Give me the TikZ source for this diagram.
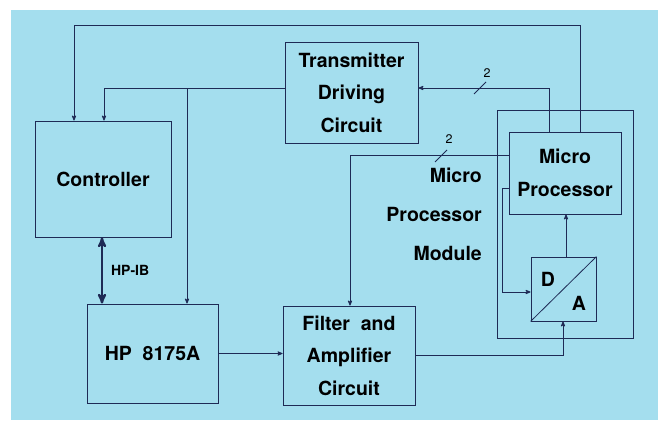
\documentclass[tikz,border=0pt]{standalone}
\usepackage{fontspec}
\setmainfont{TeX Gyre Heros}
\usetikzlibrary{arrows}
\definecolor{bgblue}{RGB}{164,222,238}
\definecolor{ink}{RGB}{30,42,85}

\begin{document}
\begin{tikzpicture}[x=1pt,y=-1pt,>=stealth',
  block/.style={draw=ink,line width=0.9pt,inner sep=0pt,align=center,
    font=\bfseries\fontsize{19.5}{32.5}\selectfont},
  wire/.style={draw=ink,line width=0.8pt,->},
  bigfont/.style={font=\bfseries\fontsize{19.5}{19.5}\selectfont,inner sep=0pt},
  busnum/.style={font=\fontsize{12.5}{12.5}\selectfont,inner sep=0pt}]
  \useasboundingbox (0,0) rectangle (658,420);
  \fill[white] (0,0) rectangle (658,420);
  \fill[bgblue] (11,10) rectangle (658,420);
  \node[block,minimum width=136pt,minimum height=116pt] (ctrl) at (103,179) {Controller};
  \node[block,minimum width=133pt,minimum height=101pt] (tdc) at (351.5,92.5) {Transmitter\\Driving\\Circuit};
  \node[block,minimum width=136pt,minimum height=228pt] (mpm) at (565,224) {};
  \node[block,minimum width=112pt,minimum height=82pt,
    font=\bfseries\fontsize{19.5}{33}\selectfont] (mp) at (565,173) {Micro\\Processor};
  \node[block,minimum width=65pt,minimum height=64pt] (da) at (563.5,289) {};
  \node[block,minimum width=131pt,minimum height=99pt] (hp) at (152.5,353.5) {HP\ \ 8175A};
  \node[block,minimum width=132pt,minimum height=99pt] (fac) at (349,355.5) {Filter\ \ and\\Amplifier\\Circuit};
  \node[font=\bfseries\fontsize{19.5}{39}\selectfont,align=right,inner sep=0pt,anchor=east]
    (mpmtext) at (482,214) {Micro\\Processor\\Module};
  \node[bigfont] (dtext) at (548,279) {D};
  \node[bigfont] (atext) at (579,303) {A};
  \draw[ink,line width=0.8pt] (da.south west) -- (da.north east);
  \coordinate (t1) at (580,25);
  \coordinate (t2) at (74,25);
  \coordinate (s1) at (104,88);
  \coordinate (s2) at (187,88);
  \coordinate (r1) at (549,88);
  \coordinate (r2) at (350,155);
  \coordinate (r3) at (563,355);
  \coordinate (r4) at (566,240);
  \coordinate (r5) at (502,188);
  \coordinate (r6) at (502,292);
  \coordinate (h1) at (102,270);
  \draw[wire] (mp.north -| t1) |- (t2) -- (ctrl.north -| t2);
  \draw[wire] (tdc.west |- s1) -| (ctrl.north -| s1);
  \draw[wire] (s2) -- (hp.north -| s2);
  \draw[wire] (mp.north -| r1) |- (tdc.east |- r1);
  \draw[wire] (mp.west |- r2) -| (fac.north -| r2);
  \draw[wire] (hp.east) -- (hp.east -| fac.west);
  \draw[wire] (fac.east |- r3) -| (da.south -| r3);
  \draw[wire] (da.north -| r4) -- (mp.south -| r4);
  \draw[wire] (mp.west |- r5) -- (r5) |- (da.west |- r6);
  \draw[<->,draw=ink,line width=2.2pt] (ctrl.south -| h1) -- (hp.north -| h1)
    node[midway,right=8pt,font=\bfseries\fontsize{14}{14}\selectfont,inner sep=0pt] (hpib) {HP-IB};
  \coordinate (b1) at (480,88);
  \coordinate (b2) at (441,156);
  \draw[ink,line width=0.8pt] ([shift={(-6,6)}]b1) -- ([shift={(6,-6)}]b1);
  \draw[ink,line width=0.8pt] ([shift={(-6,6)}]b2) -- ([shift={(6,-6)}]b2);
  \node[busnum] (n1) at (487,73) {2};
  \node[busnum] (n2) at (449,139) {2};
\end{tikzpicture}
\end{document}
